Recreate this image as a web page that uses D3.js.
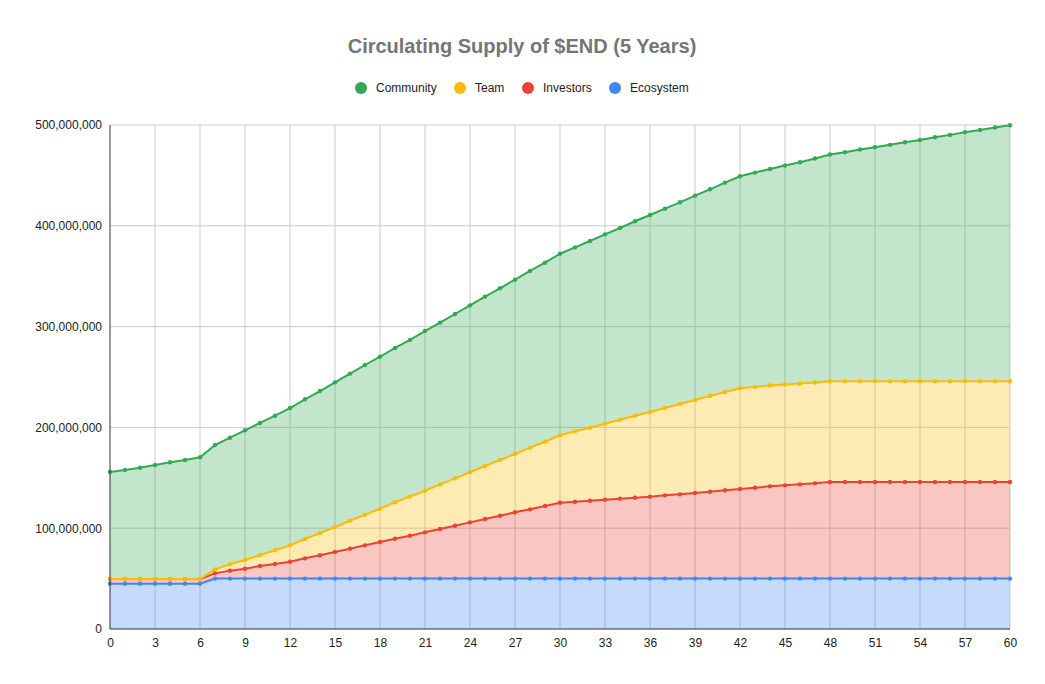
<!DOCTYPE html>
<html>
<head>
<meta charset="utf-8">
<script src="https://cdnjs.cloudflare.com/ajax/libs/d3/7.8.5/d3.min.js"></script>
<style>
  body { margin: 0; background: #fff; }
  svg { font-family: "Liberation Sans", Arial, sans-serif; }
</style>
</head>
<body>
<svg width="1045" height="684"></svg>
<script>
// months since launch
var months = [0,1,2,3,4,5,6,7,8,9,10,11,12,13,14,15,16,17,18,19,20,
    21,22,23,24,25,26,27,28,29,30,31,32,33,34,35,36,37,38,39,40,
    41,42,43,44,45,46,47,48,49,50,51,52,53,54,55,56,57,58,59,60];

// values in millions of tokens
var ecosystem = [45,45,45,45,45,45,45,
    50,50,50,50,50,50,50,50,50,50,50,50,50,50,
    50,50,50,50,50,50,50,50,50,50,50,50,50,50,50,50,50,50,50,50,
    50,50,50,50,50,50,50,50,50,50,50,50,50,50,50,50,50,50,50,50];

var investors = [4.5,4.5,4.5,4.5,4.5,4.5,4.5,
    5.2,7.9,9.8,12.5,14.5,16.8,20.1,23.1,26.4,29.7,33,36.3,39.6,42.6,
    45.9,49.2,52.5,55.8,59.1,62.4,65.8,68.7,72,75.3,76.3,77.3,78.3,79.3,80.3,81.3,82.6,83.6,84.9,86.2,
    87.6,88.9,90.2,91.5,92.5,93.5,94.5,95.8,95.8,95.8,95.8,95.8,95.8,95.8,95.8,95.8,95.8,95.8,95.8,95.8];

var team = [0,0,0,0,0,0,0,
    4,6.3,8.7,10.9,13.6,16.2,19.2,22.1,24.8,27.7,30.4,33,36.1,38.9,
    41.3,44.3,47,49.7,52.6,55.3,57.8,61.2,63.8,66.9,69.8,72.4,75.4,78.3,81.3,84,86.6,89.6,92.3,95,
    97.5,99.9,100,100,100,100,100,100,100,100,100,100,100,100,100,100,100,100,100,100];

var community = [106.3,108.2,110.5,113.2,115.9,118.2,120.8,
    123.3,125.6,128.6,131,133.5,136.2,138.6,140.9,143.5,145.9,148.5,150.8,153.1,155.3,
    158.4,160.4,163,165.6,168,170.3,173,175.3,177.6,180.1,182.5,185.2,187.8,190.2,192.9,195.4,197.8,200.1,202.7,205,
    207.7,210.3,212.6,214.9,217.3,219.6,222.3,224.9,227.2,229.9,232.2,234.5,237.1,239.4,242.1,244.4,247.1,249.3,251.7,254];

var xTicks = [0,3,6,9,12,15,18,21,24,27,30,33,36,39,42,45,48,51,54,57,60];
var yTicks = [0,100,200,300,400,500];

var seriesKeys = ['Ecosystem', 'Investors', 'Team', 'Community'];
var legendKeys = ['Community', 'Team', 'Investors', 'Ecosystem'];
var colors = {Community: '#34a853', Team: '#fbbc04', Investors: '#ea4335', Ecosystem: '#4285f4'};

d3.select(window).on('load', init);

function init() {
    var svg = d3.select('svg');
    var margin = {top: 125, right: 35, bottom: 55, left: 110};
    var width = 1045 - margin.left - margin.right;
    var height = 684 - margin.top - margin.bottom;

    var table = months.map(function(m, i) {
        return {month: m, Ecosystem: ecosystem[i], Investors: investors[i],
                Team: team[i], Community: community[i]};
    });

    var stacked = d3.stack().keys(seriesKeys)(table);

    var x = d3.scaleLinear().domain([0, 60]).range([0, width]);
    var y = d3.scaleLinear().domain([0, 500]).range([height, 0]);

    // Title
    svg.append('text')
        .attr('x', 522)
        .attr('y', 53)
        .attr('text-anchor', 'middle')
        .attr('font-size', 20)
        .attr('font-weight', 'bold')
        .attr('fill', '#757575')
        .text('Circulating Supply of $END (5 Years)');

    // Legend
    var legendX = [361, 460, 528, 615];
    var legend = svg.selectAll('g.legend')
        .data(legendKeys)
        .enter()
        .append('g')
        .attr('class', 'legend')
        .attr('transform', function(d, i) { return 'translate(' + legendX[i] + ',88)'; });
    legend.append('circle')
        .attr('r', 6)
        .attr('fill', function(d) { return colors[d]; });
    legend.append('text')
        .attr('x', 15)
        .attr('dy', '0.35em')
        .attr('font-size', 12)
        .attr('fill', '#222')
        .text(function(d) { return d; });

    var g = svg.append('g')
        .attr('transform', 'translate(' + margin.left + ',' + margin.top + ')');

    // Grid
    g.selectAll('line.hgrid')
        .data(yTicks.filter(function(d) { return d > 0; }))
        .enter()
        .append('line')
        .attr('x1', 0).attr('x2', width)
        .attr('y1', function(d) { return y(d); })
        .attr('y2', function(d) { return y(d); })
        .attr('stroke', '#cccccc');
    g.selectAll('line.vgrid')
        .data(xTicks.filter(function(d) { return d > 0; }))
        .enter()
        .append('line')
        .attr('y1', 0).attr('y2', height)
        .attr('x1', function(d) { return x(d); })
        .attr('x2', function(d) { return x(d); })
        .attr('stroke', '#cccccc');

    // Areas
    var area = d3.area()
        .x(function(d) { return x(d.data.month); })
        .y0(function(d) { return y(d[0]); })
        .y1(function(d) { return y(d[1]); });

    g.selectAll('path.area')
        .data(stacked)
        .enter()
        .append('path')
        .attr('class', 'area')
        .attr('d', area)
        .attr('fill', function(d) { return colors[d.key]; })
        .attr('fill-opacity', 0.3);

    // Lines and points
    var line = d3.line()
        .x(function(d) { return x(d.data.month); })
        .y(function(d) { return y(d[1]); });

    stacked.forEach(function(s) {
        g.append('path')
            .datum(s)
            .attr('d', line)
            .attr('fill', 'none')
            .attr('stroke', colors[s.key])
            .attr('stroke-width', 2);
        g.selectAll('circle.p-' + s.key)
            .data(s)
            .enter()
            .append('circle')
            .attr('class', 'p-' + s.key)
            .attr('cx', function(d) { return x(d.data.month); })
            .attr('cy', function(d) { return y(d[1]); })
            .attr('r', 2.2)
            .attr('fill', colors[s.key]);
    });

    // Axes
    var fmt = d3.format(',');
    var yAxis = g.append('g')
        .call(d3.axisLeft(y).tickValues(yTicks).tickSize(0).tickPadding(8)
            .tickFormat(function(d) { return fmt(d * 1e6); }));
    var xAxis = g.append('g')
        .attr('transform', 'translate(0,' + height + ')')
        .call(d3.axisBottom(x).tickValues(xTicks).tickSize(0).tickPadding(9));

    [yAxis, xAxis].forEach(function(a) {
        a.select('.domain').remove();
        a.selectAll('text')
            .attr('font-size', 12)
            .attr('font-family', '"Liberation Sans", Arial, sans-serif')
            .attr('fill', '#222');
    });

    g.append('line')
        .attr('x1', 0).attr('x2', 0).attr('y1', 0).attr('y2', height)
        .attr('stroke', '#333');
    g.append('line')
        .attr('x1', 0).attr('x2', width).attr('y1', height).attr('y2', height)
        .attr('stroke', '#333');
}
</script>
</body>
</html>
